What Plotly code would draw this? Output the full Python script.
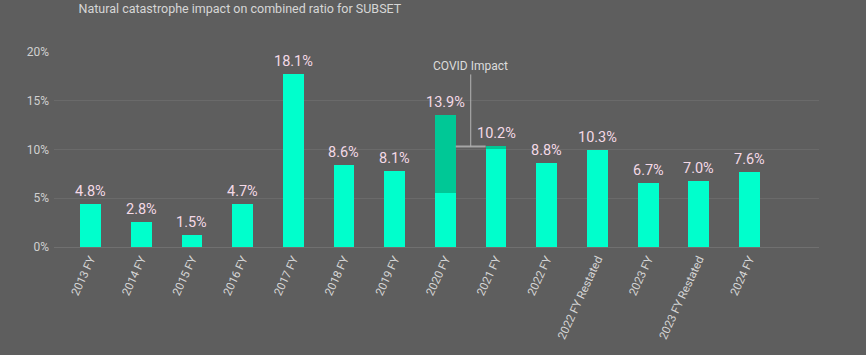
import plotly.graph_objects as go

# ---- data ----
categories = ["2013 FY", "2014 FY", "2015 FY", "2016 FY", "2017 FY", "2018 FY",
              "2019 FY", "2020 FY", "2021 FY", "2022 FY", "2022 FY Restated",
              "2023 FY", "2023 FY Restated", "2024 FY"]
base_values = [4.42, 2.57, 1.23, 4.42, 17.78, 8.43, 7.78, 5.58, 10.07, 8.60,
               9.97, 6.58, 6.78, 7.71]
covid_values = [0, 0, 0, 0, 0, 0, 0, 7.99, 0.24, 0, 0, 0, 0, 0]
label_values = [4.8, 2.8, 1.5, 4.7, 18.1, 8.6, 8.1, 13.9, 10.2, 8.8, 10.3,
                6.7, 7.0, 7.6]
y_ticks = [0, 5, 10, 15, 20]
grid_ticks = [5, 10, 15]
title_text = "Natural catastrophe impact on combined ratio for SUBSET"
covid_text = "COVID Impact"

# ---- style ----
BG = "#5e5e5e"
BAR = "#00ffcc"
COVID = "#00c896"
FONT = "Roboto"

totals = [b + c for b, c in zip(base_values, covid_values)]
labels = [f"{v:.1f}%" for v in label_values]
n = len(categories)
bar_width = 0.41

fig = go.Figure()
fig.add_trace(go.Bar(x=list(range(n)), y=base_values, marker=dict(color=BAR, line=dict(width=0)),
                     width=bar_width, hoverinfo="skip"))
fig.add_trace(go.Bar(x=list(range(n)), y=covid_values, marker=dict(color=COVID, line=dict(width=0)),
                     width=bar_width, hoverinfo="skip"))
# invisible trace to attach the labelled y axis
fig.add_trace(go.Scatter(x=[0], y=[0], mode="markers", yaxis="y2",
                         marker=dict(opacity=0), hoverinfo="skip"))

for i in range(n):
    fig.add_annotation(x=i, y=totals[i], xref="x", yref="y", text=labels[i],
                       showarrow=False, yanchor="bottom", yshift=2,
                       font=dict(family=FONT, size=14.5, color="#f4d9e6"))

# COVID bracket between the 2020 and 2021 bars
i20 = categories.index("2020 FY")
i21 = categories.index("2021 FY")
bracket_y = totals[i21]
mid_x = (i20 + i21) / 2
fig.add_shape(type="line", x0=i20 + bar_width / 2, x1=i21 - bar_width / 2,
              y0=bracket_y, y1=bracket_y, xref="x", yref="y",
              line=dict(color="#a6a6a6", width=2))
fig.add_shape(type="line", x0=mid_x, x1=mid_x, y0=bracket_y, y1=17.7,
              xref="x", yref="y", line=dict(color="#b4b4b4", width=1))
fig.add_annotation(x=mid_x, y=18.6, xref="x", yref="y", text=covid_text,
                   showarrow=False, font=dict(family=FONT, size=12, color="#dcdcdc"),
                   yanchor="middle")

fig.update_layout(
    width=866, height=355,
    margin=dict(l=54, r=47, t=52, b=108),
    paper_bgcolor=BG, plot_bgcolor=BG,
    barmode="stack", showlegend=False,
    title=dict(text=title_text, x=0.277, xanchor="center", xref="container",
               y=0.975, yanchor="middle", yref="container",
               font=dict(family=FONT, size=12.5, color="#d6d6d6")),
    xaxis=dict(tickmode="array", tickvals=list(range(n)), ticktext=categories,
               range=[-0.72, 14.37], tickangle=-65, showgrid=False,
               showline=True, linecolor="#707070", linewidth=1,
               ticks="", tickfont=dict(family=FONT, size=11.5, color="#d6d6d6")),
    yaxis=dict(range=[0, 20], tickvals=grid_ticks, showticklabels=False,
               showgrid=True, gridcolor="#6a6a6a", gridwidth=1, zeroline=False),
    yaxis2=dict(range=[0, 20], overlaying="y", side="left", tickvals=y_ticks,
                ticktext=[f"{t}%" for t in y_ticks], showgrid=False, zeroline=False,
                ticks="", ticklabelstandoff=4,
                tickfont=dict(family=FONT, size=12, color="#d0d0d0")),
)

fig.write_html("out.html", config={"displayModeBar": False},
               post_script="document.body.style.margin='0';"
                           "document.body.style.background='#5e5e5e';")
